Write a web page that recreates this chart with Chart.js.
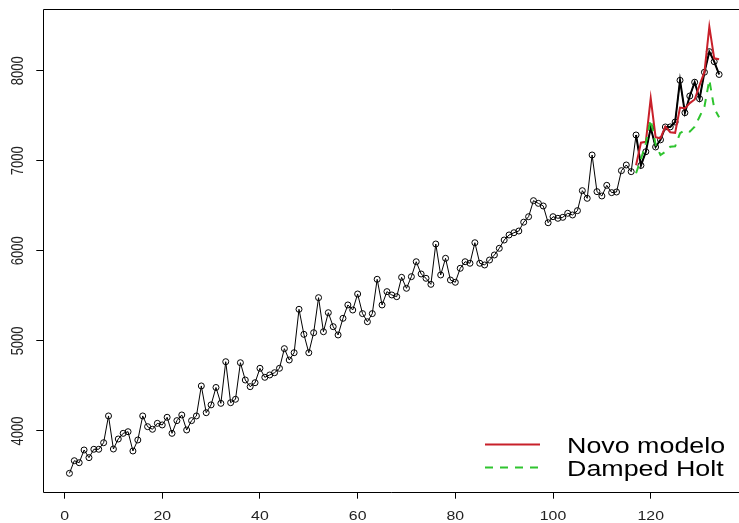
<!DOCTYPE html>
<html>
<head>
<meta charset="utf-8">
<script src="https://cdn.jsdelivr.net/npm/chart.js@4/dist/chart.umd.min.js"></script>
<style>
  html, body { margin: 0; padding: 0; background: #fff; }
  #grafico { display: block; }
</style>
</head>
<body>
<canvas id="grafico" width="739" height="523"></canvas>
<script>
// dados

const serie = [
  3530, 3670, 3648, 3789, 3704, 3797, 3797, 3870, 4167, 3800,
  3911, 3974, 3992, 3778, 3900, 4167, 4048, 4019, 4085, 4067,
  4152, 3974, 4115, 4178, 4011, 4115, 4167, 4500, 4203, 4290,
  4483, 4307, 4769, 4314, 4352, 4758, 4566, 4492, 4536, 4696,
  4596, 4622, 4647, 4696, 4914, 4788, 4869, 5351, 5073, 4869,
  5091, 5480, 5102, 5313, 5158, 5066, 5251, 5399, 5343, 5521,
  5303, 5213, 5303, 5684, 5399, 5547, 5510, 5491, 5706, 5584,
  5713, 5879, 5743, 5695, 5628, 6076, 5732, 5917, 5676, 5651,
  5806, 5879, 5862, 6090, 5862, 5843, 5898, 5954, 6028, 6120,
  6176, 6201, 6220, 6318, 6379, 6557, 6527, 6498, 6312, 6379,
  6361, 6372, 6417, 6398, 6446, 6668, 6583, 7064, 6657, 6609,
  6727, 6646, 6653, 6890, 6953, 6879, 7286, 6948, 7100, 7365,
  7153, 7232, 7375, 7376, 7430, 7893, 7533, 7719, 7872, 7688,
  7983, 8211, 8100, 7958
];

const inicioPrevisao = 117;

const novoModelo = [
  6950, 7200, 7210, 7693, 7262, 7250, 7378, 7317, 7310,
  7590, 7582, 7640, 7680, 7840, 7983, 8489, 8137, 8126
];

const dampedHolt = [
  6861, 7020, 7194, 7460, 7180, 7064, 7100, 7156, 7160,
  7305, 7341, 7323, 7378, 7489, 7600, 7897, 7582, 7482
];

const ticksX = [0, 20, 40, 60, 80, 100, 120];
const ticksY = [4000, 5000, 6000, 7000, 8000];

const legenda = ["Novo modelo", "Damped Holt"];

// pontos {x, y}

const pontos = (valores, primeiro) =>
  valores.map((v, i) => ({ x: primeiro + i, y: v }));

const pontosSerie = pontos(serie, 1);
const pontosTeste = pontosSerie.slice(inicioPrevisao - 1);

// textos no estilo R (fonte esticada na horizontal)

const fonte = '"Liberation Sans", Arial, sans-serif';
const esticar = 1.22;

function texto(ctx, t, x, y, tamanho, alinhamento, girar) {
  ctx.save();
  ctx.translate(x, y);
  if (girar) {
    ctx.rotate(-Math.PI / 2);
    ctx.scale(1, esticar);
  } else {
    ctx.scale(esticar, 1);
  }
  ctx.font = tamanho + "px " + fonte;
  ctx.textAlign = alinhamento;
  ctx.textBaseline = girar ? "middle" : "alphabetic";
  ctx.fillText(t, 0, 0);
  ctx.restore();
}

const moldura = {
  id: "moldura",
  afterDraw(chart) {
    const { ctx, chartArea: a, scales } = chart;
    ctx.save();

    // caixa
    ctx.strokeStyle = "#000";
    ctx.lineWidth = 1;
    const l = Math.round(a.left) + 0.5;
    const t = Math.round(a.top) + 0.5;
    const b = Math.round(a.bottom) + 0.5;
    ctx.beginPath();
    ctx.moveTo(a.right + 20, t);
    ctx.lineTo(l, t);
    ctx.lineTo(l, b);
    ctx.lineTo(a.right + 20, b);
    ctx.stroke();

    // rótulos dos eixos
    ctx.fillStyle = "#222";
    ticksX.forEach((v) => {
      texto(ctx, String(v), scales.x.getPixelForValue(v), 520, 13, "center", false);
    });
    ticksY.forEach((v) => {
      texto(ctx, String(v), 19, scales.y.getPixelForValue(v), 13, "center", true);
    });

    // legenda
    ctx.lineWidth = 2;
    ctx.strokeStyle = "#c8202a";
    ctx.beginPath();
    ctx.moveTo(485, 444.5);
    ctx.lineTo(540, 444.5);
    ctx.stroke();

    ctx.strokeStyle = "#2fc42f";
    ctx.setLineDash([8, 7]);
    ctx.beginPath();
    ctx.moveTo(485, 467.5);
    ctx.lineTo(540, 467.5);
    ctx.stroke();
    ctx.setLineDash([]);

    ctx.fillStyle = "#000";
    texto(ctx, legenda[0], 567, 453, 22, "left", false);
    texto(ctx, legenda[1], 567, 476, 22, "left", false);

    ctx.restore();
  }
};

const config = {
  type: "line",
  data: {
    datasets: [
      {
        label: "Série",
        data: pontosSerie,
        borderColor: "#000",
        borderWidth: 1,
        pointRadius: 3,
        pointBorderWidth: 1,
        pointBorderColor: "#000",
        pointBackgroundColor: "rgba(0,0,0,0)",
        tension: 0,
        order: 3
      },
      {
        label: "Teste",
        data: pontosTeste,
        borderColor: "#000",
        borderWidth: 2,
        pointRadius: 0,
        tension: 0,
        order: 2
      },
      {
        label: legenda[0],
        data: pontos(novoModelo, inicioPrevisao),
        borderColor: "#c8202a",
        borderWidth: 2,
        pointRadius: 0,
        tension: 0,
        order: 1
      },
      {
        label: legenda[1],
        data: pontos(dampedHolt, inicioPrevisao),
        borderColor: "#2fc42f",
        borderWidth: 2,
        borderDash: [8, 7],
        pointRadius: 0,
        tension: 0,
        order: 0
      }
    ]
  },
  options: {
    responsive: false,
    animation: false,
    layout: { padding: { top: 8.7, left: 0, right: 0, bottom: 0 } },
    plugins: {
      legend: { display: false },
      tooltip: { enabled: false }
    },
    scales: {
      x: {
        type: "linear",
        min: -4.35,
        max: 137.05,
        afterBuildTicks: (s) => { s.ticks = ticksX.map((v) => ({ value: v })); },
        afterFit: (s) => { s.height = 31.3; },
        ticks: { display: false },
        border: { display: false },
        grid: {
          drawOnChartArea: false,
          drawTicks: true,
          tickLength: 7,
          color: "#000",
          lineWidth: 1
        }
      },
      y: {
        min: 3326,
        max: 8688,
        afterBuildTicks: (s) => { s.ticks = ticksY.map((v) => ({ value: v })); },
        afterFit: (s) => { s.width = 43.3; },
        ticks: { display: false },
        border: { display: false },
        grid: {
          drawOnChartArea: false,
          drawTicks: true,
          tickLength: 7,
          color: "#000",
          lineWidth: 1
        }
      }
    }
  },
  plugins: [moldura]
};

new Chart(document.querySelector("#grafico").getContext("2d"), config);
</script>
</body>
</html>
